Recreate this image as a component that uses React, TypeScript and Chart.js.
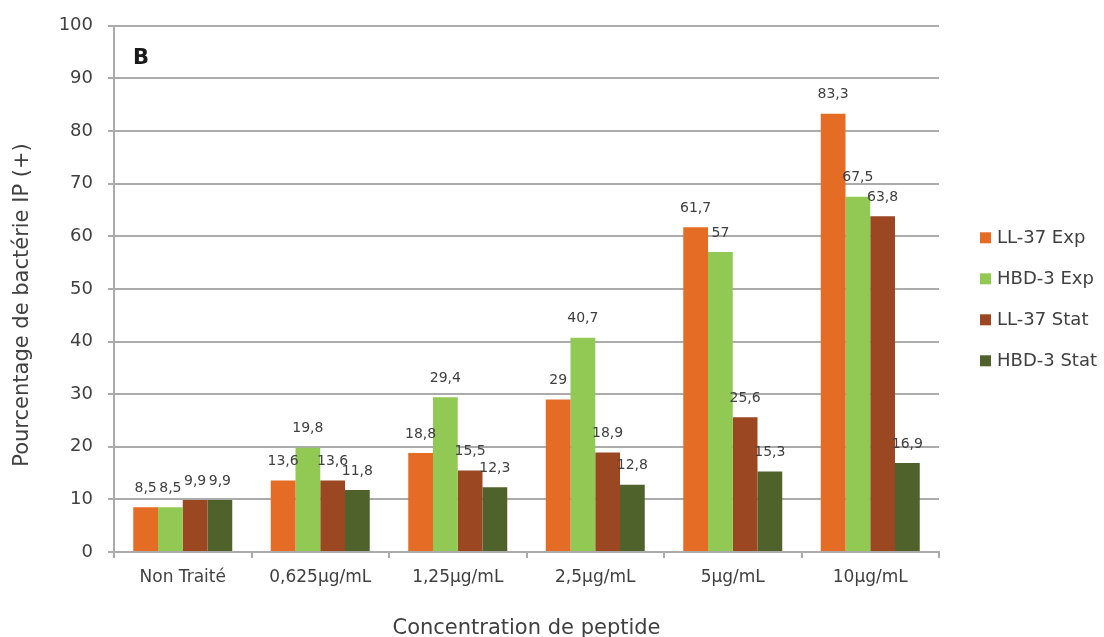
import React, { useEffect, useRef } from "react";
import { Chart, registerables } from "chart.js";

Chart.register(...registerables);

const categories = ["Non Traité", "0,625µg/mL", "1,25µg/mL", "2,5µg/mL", "5µg/mL", "10µg/mL"];
const seriesNames = ["LL-37 Exp", "HBD-3 Exp", "LL-37 Stat", "HBD-3 Stat"];
const ll37Exp = [8.5, 13.6, 18.8, 29, 61.7, 83.3];
const hbd3Exp = [8.5, 19.8, 29.4, 40.7, 57, 67.5];
const ll37Stat = [9.9, 13.6, 15.5, 18.9, 25.6, 63.8];
const hbd3Stat = [9.9, 11.8, 12.3, 12.8, 15.3, 16.9];
const seriesColors = ["#E56C25", "#92C955", "#9A4722", "#4F622C"];
const yTitle = "Pourcentage de bactérie IP (+)";
const xTitle = "Concentration de peptide";
const panelLabel = "B";

const FONT = "'DejaVu Sans', sans-serif";
const TEXT = "#404040";
const GRID = "#ABABAB";

const fmt = (v: number) => String(v).replace(".", ",");

const labelsPlugin = {
  id: "barLabels",
  afterDatasetsDraw(chart: any) {
    const ctx = chart.ctx;
    ctx.save();
    ctx.font = `14px ${FONT}`;
    ctx.fillStyle = TEXT;
    ctx.textAlign = "center";
    ctx.textBaseline = "middle";
    chart.data.datasets.forEach((ds: any, i: number) => {
      const meta = chart.getDatasetMeta(i);
      meta.data.forEach((bar: any, j: number) => {
        ctx.fillText(fmt(ds.data[j]), bar.x, bar.y - 19);
      });
    });
    ctx.restore();
  },
};

const legendPlugin = {
  id: "sideLegend",
  afterDraw(chart: any) {
    const ctx = chart.ctx;
    const area = chart.chartArea;
    ctx.save();
    ctx.font = `18px ${FONT}`;
    ctx.textAlign = "left";
    ctx.textBaseline = "middle";
    chart.data.datasets.forEach((ds: any, i: number) => {
      const y = area.top + 212 + i * 41;
      const x = area.right + 41;
      ctx.fillStyle = ds.backgroundColor;
      ctx.fillRect(x, y - 5.5, 11, 11);
      ctx.fillStyle = TEXT;
      ctx.fillText(ds.label, x + 17, y + 1);
    });
    // panel label
    ctx.font = `bold 21px ${FONT}`;
    ctx.fillStyle = "#1a1a1a";
    ctx.fillText(panelLabel, area.left + 19, area.top + 33);
    // y axis title
    ctx.translate(23, area.bottom - 247);
    ctx.rotate(-Math.PI / 2);
    ctx.font = `21px ${FONT}`;
    ctx.fillStyle = TEXT;
    ctx.textAlign = "center";
    ctx.fillText(yTitle, 0, 0);
    ctx.restore();
  },
};

export default function App() {
  const ref = useRef<HTMLCanvasElement>(null);
  useEffect(() => {
    if (!ref.current) return;
    const series = [ll37Exp, hbd3Exp, ll37Stat, hbd3Stat];
    const chart = new Chart(ref.current, {
      type: "bar",
      data: {
        labels: categories,
        datasets: series.map((d, i) => ({
          label: seriesNames[i],
          data: d,
          backgroundColor: seriesColors[i],
          borderWidth: 0,
          categoryPercentage: 0.72,
          barPercentage: 1,
        })),
      },
      plugins: [labelsPlugin, legendPlugin],
      options: {
        animation: false,
        responsive: false,
        layout: { padding: { left: 0, top: 25, right: 165, bottom: 0 } },
        plugins: { legend: { display: false }, tooltip: { enabled: false } },
        scales: {
          x: {
            grid: {
              drawOnChartArea: false,
              drawTicks: true,
              tickLength: 6,
              color: GRID,
              lineWidth: 2,
              offset: true,
            },
            border: { color: GRID, width: 2 },
            ticks: { color: TEXT, font: { family: FONT, size: 17 }, padding: 9, maxRotation: 0 },
            title: {
              display: true,
              text: xTitle,
              color: TEXT,
              font: { family: FONT, size: 21, lineHeight: 0.85 },
              padding: { top: 0, bottom: 0 },
            },
            afterFit: (s: any) => {
              s.height = 85;
            },
          },
          y: {
            min: 0,
            max: 100,
            ticks: {
              stepSize: 10,
              color: TEXT,
              font: { family: FONT, size: 18 },
              padding: 15,
            },
            grid: { color: GRID, lineWidth: 2, tickLength: 6, drawTicks: true },
            border: { color: GRID, width: 2 },
            title: { display: false },
            afterFit: (s: any) => {
              s.width = 114;
            },
          },
        },
      },
    });
    return () => chart.destroy();
  }, []);
  return (
    <div style={{ position: "fixed", left: 0, top: 0, width: 1104, height: 637, background: "#fff" }}>
      <canvas ref={ref} width={1104} height={637} style={{ display: "block" }} />
    </div>
  );
}
